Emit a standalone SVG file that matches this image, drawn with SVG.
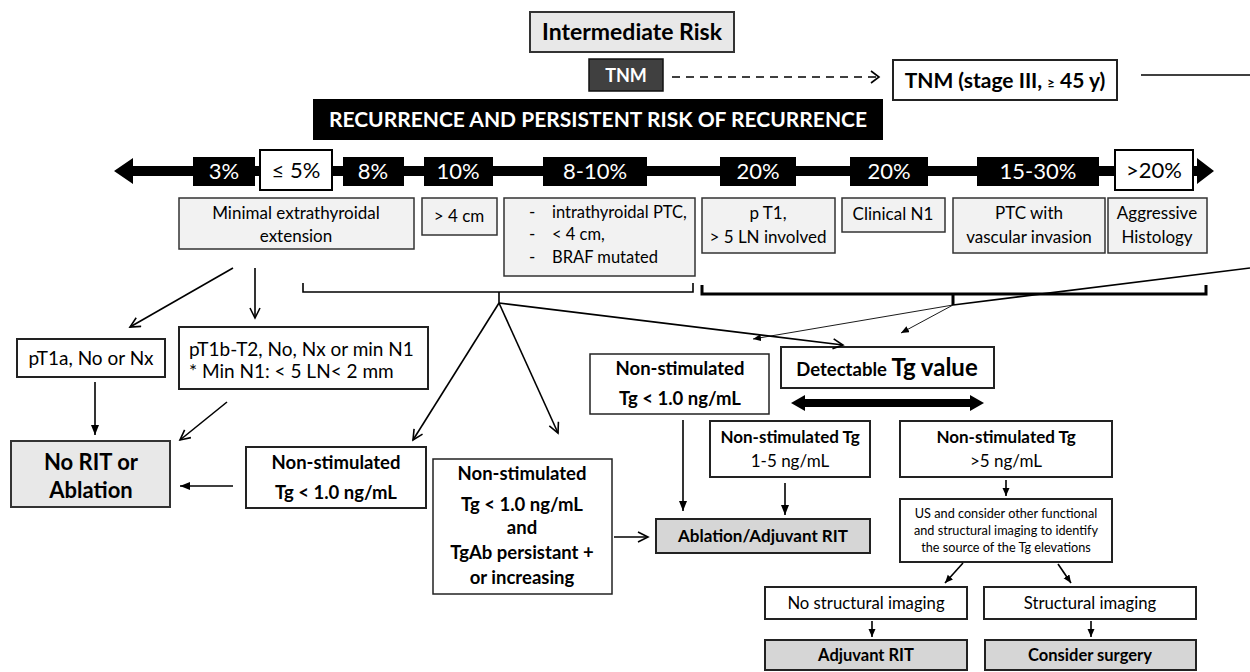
<svg xmlns="http://www.w3.org/2000/svg" width="1250" height="672" viewBox="0 0 1250 672">
<style>
text{font-family:Lato,"Liberation Sans","DejaVu Sans",sans-serif;fill:#000}
.c{text-anchor:middle}
.b{font-weight:bold}
.w{fill:#fff}
.box{fill:#fff;stroke:#222;stroke-width:1.5}
.box2{fill:#fff;stroke:#222;stroke-width:2}
.crit{fill:#f2f2f2;stroke:#333;stroke-width:1.5}
.grey{fill:#d6d6d6;stroke:#222;stroke-width:2}
.lgrey{fill:#e8e8e8;stroke:#333;stroke-width:2}
.pct{fill:#000}
.pt{font-size:22px;fill:#fff;text-anchor:middle}
.cr{font-size:17px}
.ns{font-size:18.5px;font-weight:bold;text-anchor:middle}
.ln{fill:none;stroke:#000;stroke-width:1.6}
.thin{fill:none;stroke:#000;stroke-width:0.9}
</style>
<defs>
<marker id="open" markerUnits="userSpaceOnUse" markerWidth="14" markerHeight="14" refX="11" refY="6" orient="auto">
<path d="M1,1 L11,6 L1,11" fill="none" stroke="#000" stroke-width="1.6"/>
</marker>
<marker id="tri" markerUnits="userSpaceOnUse" markerWidth="12" markerHeight="10" refX="10" refY="4" orient="auto">
<path d="M0,0 L10,4 L0,8 Z" fill="#000"/>
</marker>
<marker id="tris" markerUnits="userSpaceOnUse" markerWidth="10" markerHeight="8" refX="8" refY="3.5" orient="auto">
<path d="M0,0 L8,3.5 L0,7 Z" fill="#000"/>
</marker>
</defs>

<!-- header -->
<g id="intermediate">
<rect x="530" y="12" width="204" height="40" class="lgrey"/>
<text x="632" y="40" class="c b" font-size="23">Intermediate Risk</text>
</g>
<g id="tnm">
<rect x="589" y="59" width="74" height="32" fill="#404040" stroke="#111" stroke-width="1.5"/>
<text x="626" y="82" class="c b w" font-size="18">TNM</text>
</g>
<g id="tnm-stage">
<rect x="893" y="60" width="224" height="40" class="box2"/>
<text x="1005" y="88" class="c b" font-size="21">TNM (stage III, <tspan font-size="13">≥</tspan> 45 y)</text>
</g>
<g id="banner">
<rect x="313" y="99" width="570" height="41" fill="#000"/>
<text x="598" y="127" class="c b w" font-size="21">RECURRENCE AND PERSISTENT RISK OF RECURRENCE</text>
</g>

<!-- risk scale -->
<g id="scale">
<polygon points="114,171 133,158 133,166 1197,166 1197,158 1214,171 1197,184 1197,176 133,176 133,184" fill="#000"/>
<rect x="193" y="157" width="62" height="29" class="pct"/>
<text x="224" y="179" class="pt">3%</text>
<rect x="260" y="150" width="72" height="40" fill="#fff" stroke="#000" stroke-width="2"/>
<text x="296" y="178" font-size="22" class="c">≤ 5%</text>
<rect x="343" y="157" width="61" height="29" class="pct"/>
<text x="373" y="179" class="pt">8%</text>
<rect x="424" y="157" width="69" height="29" class="pct"/>
<text x="458" y="179" class="pt">10%</text>
<rect x="543" y="157" width="104" height="29" class="pct"/>
<text x="595" y="179" class="pt">8-10%</text>
<rect x="720" y="157" width="76" height="29" class="pct"/>
<text x="758" y="179" class="pt">20%</text>
<rect x="850" y="157" width="78" height="29" class="pct"/>
<text x="889" y="179" class="pt">20%</text>
<rect x="977" y="157" width="122" height="29" class="pct"/>
<text x="1038" y="179" class="pt">15-30%</text>
<rect x="1115" y="150" width="78" height="40" fill="#fff" stroke="#000" stroke-width="2"/>
<text x="1154" y="178" font-size="22" class="c">&gt;20%</text>
</g>

<!-- criteria -->
<g id="crit-minimal">
<rect x="179" y="198" width="235" height="51" class="crit"/>
<text x="296" y="219" class="c cr">Minimal extrathyroidal</text>
<text x="296" y="242" class="c cr">extension</text>
</g>
<g id="crit-4cm">
<rect x="422" y="198" width="75" height="37" class="crit"/>
<text x="459" y="222" class="c cr">&gt; 4 cm</text>
</g>
<g id="crit-intra">
<rect x="504" y="198" width="191" height="78" class="crit"/>
<text x="529" y="218" class="cr">-</text><text x="552" y="218" font-size="16.5">intrathyroidal PTC,</text>
<text x="529" y="240" class="cr">-</text><text x="552" y="240" font-size="16.5">&lt; 4 cm,</text>
<text x="529" y="263" class="cr">-</text><text x="552" y="263" font-size="16.5">BRAF mutated</text>
</g>
<g id="crit-pt1">
<rect x="702" y="198" width="133" height="55" class="crit"/>
<text x="768" y="219" class="c cr">p T1,</text>
<text x="768" y="243" class="c cr">&gt; 5 LN involved</text>
</g>
<g id="crit-n1">
<rect x="842" y="198" width="103" height="34" class="crit"/>
<text x="893" y="220" class="c cr">Clinical N1</text>
</g>
<g id="crit-vasc">
<rect x="953" y="198" width="152" height="55" class="crit"/>
<text x="1029" y="219" class="c cr">PTC with</text>
<text x="1029" y="243" class="c cr">vascular invasion</text>
</g>
<g id="crit-aggr">
<rect x="1108" y="198" width="99" height="55" class="crit"/>
<text x="1157" y="219" class="c cr">Aggressive</text>
<text x="1157" y="243" class="c cr">Histology</text>
</g>

<!-- left branch -->
<g id="pt1a">
<rect x="17" y="339" width="148" height="38" class="box2"/>
<text x="91" y="365" class="c" font-size="19">pT1a, No or Nx</text>
</g>
<g id="pt1b">
<rect x="179" y="327" width="249" height="62" class="box2"/>
<text x="189" y="356" font-size="19">pT1b-T2, No, Nx or min N1</text>
<text x="189" y="378" font-size="19">* Min N1: &lt; 5 LN&lt; 2 mm</text>
</g>
<g id="no-rit">
<rect x="11" y="441" width="159" height="66" class="lgrey"/>
<text x="91" y="470" class="c b" font-size="22">No RIT or</text>
<text x="91" y="498" class="c b" font-size="22">Ablation</text>
</g>
<g id="nonstim-left">
<rect x="246" y="447" width="180" height="61" class="box2"/>
<text x="336" y="469" class="ns">Non-stimulated</text>
<text x="336" y="499" class="ns">Tg &lt; 1.0 ng/mL</text>
</g>
<g id="tgab">
<rect x="433" y="459" width="179" height="135" class="box"/>
<text x="522" y="480" class="ns">Non-stimulated</text>
<text x="522" y="511" class="ns">Tg &lt; 1.0 ng/mL</text>
<text x="522" y="534" class="ns">and</text>
<text x="522" y="559" class="ns">TgAb  persistant +</text>
<text x="522" y="584" class="ns">or increasing</text>
</g>

<!-- middle / right branch -->
<g id="nonstim-mid">
<rect x="590" y="354" width="179" height="60" class="box"/>
<text x="680" y="375" class="ns">Non-stimulated</text>
<text x="680" y="405" class="ns">Tg &lt; 1.0 ng/mL</text>
</g>
<g id="detectable">
<rect x="781" y="347" width="213" height="41" class="box2"/>
<text x="887" y="376" class="c b" font-size="18.5">Detectable <tspan font-size="24">Tg value</tspan></text>
</g>
<g id="tg-1-5">
<rect x="710" y="421" width="160" height="56" class="box2"/>
<text x="790" y="443" class="c b" font-size="17">Non-stimulated  Tg</text>
<text x="790" y="467" class="c" font-size="17">1-5 ng/mL</text>
</g>
<g id="ablation">
<rect x="656" y="519" width="214" height="34" class="grey"/>
<text x="763" y="542" class="c b" font-size="17">Ablation/Adjuvant RIT</text>
</g>
<g id="tg-5">
<rect x="900" y="421" width="212" height="56" class="box2"/>
<text x="1006" y="443" class="c b" font-size="17">Non-stimulated  Tg</text>
<text x="1006" y="467" class="c" font-size="17">&gt;5 ng/mL</text>
</g>
<g id="us">
<rect x="900" y="499" width="212" height="63" class="box2"/>
<text x="1006" y="518" class="c" font-size="12.7">US and consider other functional</text>
<text x="1006" y="535" class="c" font-size="12.7">and structural imaging to identify</text>
<text x="1006" y="552" class="c" font-size="12.7">the source of the Tg elevations</text>
</g>
<g id="no-struct">
<rect x="765" y="587" width="202" height="32" class="box2"/>
<text x="866" y="609" class="c" font-size="16.7">No structural imaging</text>
</g>
<g id="struct">
<rect x="984" y="587" width="212" height="32" class="box2"/>
<text x="1090" y="609" class="c" font-size="16.7">Structural imaging</text>
</g>
<g id="adj-rit">
<rect x="765" y="640" width="202" height="30" class="grey"/>
<text x="866" y="661" class="c b" font-size="16.5">Adjuvant RIT</text>
</g>
<g id="surgery">
<rect x="985" y="640" width="211" height="30" class="grey"/>
<text x="1090" y="661" class="c b" font-size="16.5">Consider surgery</text>
</g>

<!-- connectors -->
<g id="connectors">
<path d="M672,77 H877" class="ln" stroke-dasharray="8,6"/>
<path d="M871,71 L879,77 L871,83" class="ln"/>
<path d="M1141,75 H1250" class="ln"/>
<path d="M303,283 V292 H693 V283 M499,292 V303" class="ln"/>
<path d="M702,285 V294 H1206 V285 M953,294 V305" fill="none" stroke="#000" stroke-width="3"/>
<path d="M953,305 L1250,268" class="ln"/>
<path d="M953,305 L753,339" class="thin" marker-end="url(#tris)"/>
<path d="M953,305 L901,333" class="thin" marker-end="url(#tris)"/>
<path d="M499,303 L843,345" class="ln" marker-end="url(#open)"/>
<path d="M499,303 L413,440" class="ln" marker-end="url(#open)"/>
<path d="M499,303 L558,433" class="ln" marker-end="url(#open)"/>
<path d="M233,268 L130,327" class="ln" marker-end="url(#open)"/>
<path d="M255,268 V318" class="ln" marker-end="url(#open)"/>
<path d="M95,382 V435" class="ln" marker-end="url(#tri)"/>
<path d="M227,402 L180,440" class="ln" marker-end="url(#open)"/>
<path d="M233,486 H180" class="ln" marker-end="url(#tri)"/>
<path d="M614,537 H648" class="ln" marker-end="url(#open)"/>
<path d="M683,420 V511" class="ln" marker-end="url(#tri)"/>
<path d="M785,483 V515" class="ln" marker-end="url(#tri)"/>
<path d="M1006,480 V496" class="ln" marker-end="url(#tris)"/>
<path d="M963,563 L945,583" class="ln" marker-end="url(#tris)"/>
<path d="M1058,564 L1071,583" class="ln" marker-end="url(#tris)"/>
<path d="M872,621 V637" class="ln" marker-end="url(#tris)"/>
<path d="M1091,621 V637" class="ln" marker-end="url(#tris)"/>
<polygon points="791,403 805,395 805,399 970,399 970,395 984,403 970,411 970,407 805,407 805,411" fill="#000"/>
</g>
</svg>
